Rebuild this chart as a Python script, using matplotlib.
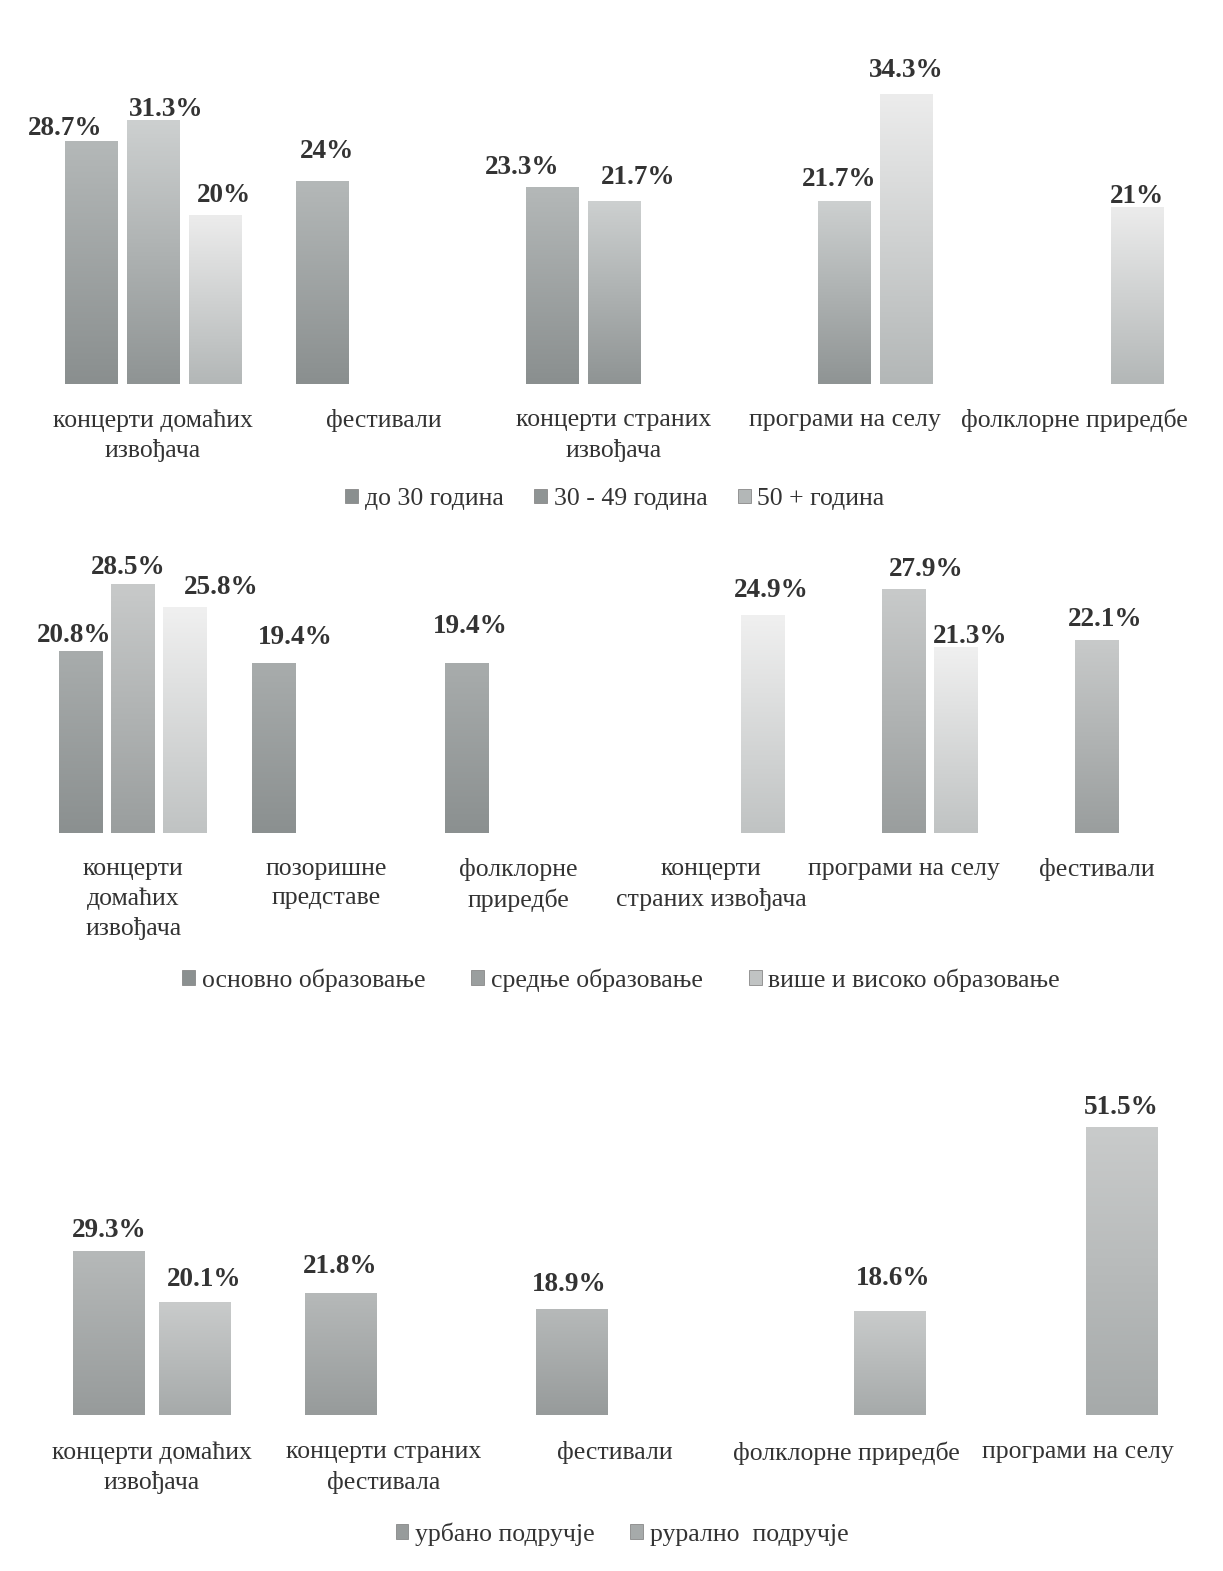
import numpy as np
import matplotlib
matplotlib.use("Agg")
import matplotlib.pyplot as plt
from matplotlib.patches import Patch
from matplotlib.colors import LinearSegmentedColormap

plt.rcParams['font.family'] = ['Liberation Serif', 'DejaVu Serif']

# ---- data: chart 1 (age groups) ----
cats1 = ["концерти домаћих\nизвођача", "фестивали", "концерти страних\nизвођача",
         "програми на селу", "фолклорне приредбе"]
series1 = ["до 30 година", "30 - 49 година", "50 + година"]
vals1 = [
    [28.7, 24.0, 23.3, None, None],   # до 30
    [31.3, None, 21.7, 21.7, None],   # 30 - 49
    [20.0, None, None, 34.3, 21.0],   # 50 +
]
lbl1 = [["28.7%", "24%", "23.3%", None, None],
        ["31.3%", None, "21.7%", "21.7%", None],
        ["20%", None, None, "34.3%", "21%"]]

# ---- data: chart 2 (education) ----
cats2 = ["концерти\nдомаћих\nизвођача", "позоришне\nпредставе", "фолклорне\nприредбе",
         "концерти\nстраних извођача", "програми на селу", "фестивали"]
series2 = ["основно образовање", "средње образовање", "више и високо образовање"]
vals2 = [
    [20.8, 19.4, 19.4, None, None, None],
    [28.5, None, None, None, 27.9, 22.1],
    [25.8, None, None, 24.9, 21.3, None],
]

# ---- data: chart 3 (area) ----
cats3 = ["концерти домаћих\nизвођача", "концерти страних\nфестивала", "фестивали",
         "фолклорне приредбе", "програми на селу"]
series3 = ["урбано подручје", "рурално  подручје"]
vals3 = [
    [29.3, 21.8, 18.9, None, None],
    [20.1, None, None, 18.6, 51.5],
]

# label nudges (pixels): (series, category) -> (dx, height of label centre above bar top)
nudge1 = {(0, 0): (-26, 13), (1, 0): (13, 10), (2, 0): (9, 19), (0, 1): (5, 30),
          (0, 2): (-30, 20), (1, 2): (24, 23), (1, 3): (-5, 21), (2, 3): (0, 24), (2, 4): (0, 10)}
nudge2 = {(0, 0): (-7, 16), (1, 0): (-5, 16), (2, 0): (36, 20), (0, 1): (21, 26),
          (0, 2): (4, 37), (2, 3): (8, 25), (1, 4): (22, 19), (2, 4): (14, 10), (1, 5): (8, 20)}
nudge3 = {(0, 0): (0, 20), (1, 0): (9, 23), (0, 1): (0, 26), (0, 2): (-3, 25),
          (1, 3): (3, 32), (1, 4): (0, 19)}

W, H = 1223, 1571
fig = plt.figure(figsize=(W / 100, H / 100), dpi=100)
fig.patch.set_facecolor("white")


def px_axes(left, right, bottom, top):
    return fig.add_axes([left / W, 1 - bottom / H, (right - left) / W, (bottom - top) / H])


def grad_bar(ax, x, w, h, c_top, c_bot):
    bar = ax.bar(x, h, w, color="none", edgecolor="none")[0]
    cmap = LinearSegmentedColormap.from_list("g", [c_bot, c_top])
    g = np.linspace(0, 1, 100).reshape(-1, 1)
    im = ax.imshow(g, cmap=cmap, origin="lower", aspect="auto",
                   extent=(x - w / 2, x + w / 2, 0, h), interpolation="bicubic", zorder=2)
    im.set_clip_path(bar)


def draw(ax, cats, series, vals, labels, colors, offs, width, ymax, pad, nudge):
    n = len(series)
    for s in range(n):
        for i, v in enumerate(vals[s]):
            if v is None:
                continue
            x = i + offs[s]
            grad_bar(ax, x, width, v, colors[s][0], colors[s][1])
            txt = labels[s][i] if labels is not None else f"{v:.1f}%"
            dx, dy = nudge.get((s, i), (0, 20))
            ax.annotate(txt, (x, v), xytext=(dx, dy), textcoords="offset pixels",
                        ha="center", va="center", fontsize=19.5, fontweight="bold",
                        color="#333333", zorder=5)
    ax.set_xlim(-0.5, len(cats) - 0.5)
    ax.set_ylim(0, ymax)
    ax.set_xticks(range(len(cats)))
    ax.set_xticklabels(cats, fontsize=18.5, color="#333333", linespacing=1.42)
    ax.tick_params(axis="x", length=0, pad=pad)
    ax.set_yticks([])
    for sp in ax.spines.values():
        sp.set_visible(False)
    ax.patch.set_alpha(0)


def legend(series, colors, cx, cy, colsp):
    handles = [Patch(facecolor=c[1], edgecolor="#888888", linewidth=0.6) for c in colors]
    fig.legend(handles, series, loc="center", bbox_to_anchor=(cx / W, 1 - cy / H), ncol=len(series),
               frameon=False, fontsize=18.5, handlelength=0.5, handleheight=0.5, handletextpad=0.25,
               columnspacing=colsp, labelcolor="#333333")


col1 = [("#b4b8b8", "#8a8f8f"), ("#cdd0d0", "#8f9494"), ("#ececec", "#b3b7b7")]
col2 = [("#a8acac", "#8b9090"), ("#c8caca", "#9a9e9e"), ("#f0f0f0", "#c0c3c3")]
col3 = [("#b6b9b9", "#979b9b"), ("#c9cbcb", "#a6aaaa")]

ax1 = px_axes(38, 1190, 384, 46)
draw(ax1, cats1, series1, vals1, lbl1, col1, [-0.269, 0, 0.269], 0.226, 40, 18, nudge1)
legend(series1, col1, 615, 499, 1.2)

ax2 = px_axes(37, 1193, 833, 553)
draw(ax2, cats2, series2, vals2, None, col2, [-0.27, 0, 0.27], 0.228, 32, 18, nudge2)
legend(series2, col2, 621, 980, 1.8)

ax3 = px_axes(36, 1194, 1415, 1079)
draw(ax3, cats3, series3, vals3, None, col3, [-0.186, 0.186], 0.307, 60, 19, nudge3)
legend(series3, col3, 622, 1534, 1.4)

fig.savefig("out.png", dpi=100, facecolor="white")
